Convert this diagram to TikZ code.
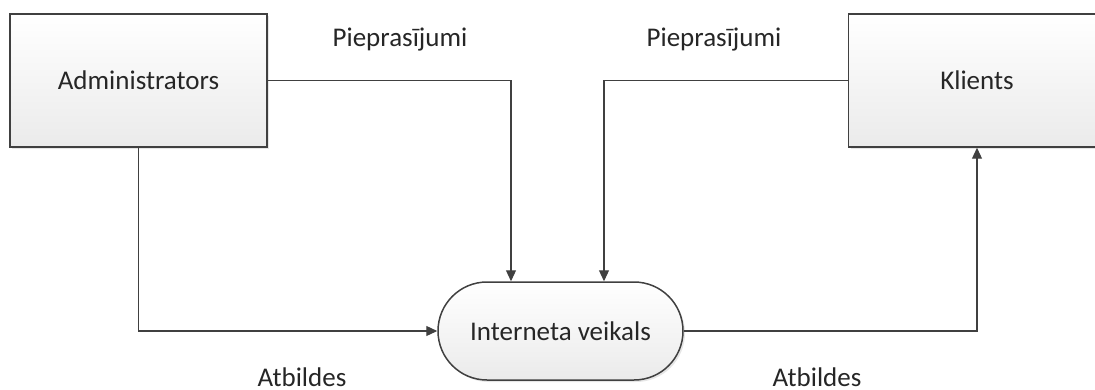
\documentclass[tikz,border=0pt]{standalone}
\usepackage{fontspec}
\setmainfont{Carlito}
\usepackage{tikz}
\usetikzlibrary{arrows.meta,shadows}

\begin{document}
\begin{tikzpicture}[x=1pt,y=-1pt]
                \useasboundingbox (0,0) rectangle (1095,390);
                \begin{scope}[every node/.style={draw=black!75, line width=1.5pt, top color=white, bottom color=black!8,
                                drop shadow={opacity=0.2, shadow xshift=2pt, shadow yshift=-2pt},
                                font=\fontsize{27}{32}\selectfont, text=black!85, inner sep=1}]
                        \node[minimum width=257, minimum height=133] (A1) at (138.5,80.5) {Administrators};
                        \node[minimum width=257, minimum height=133] (K1) at (977,80.5) {Klients};
                        \node[minimum width=245, minimum height=98, rounded corners=49] (S1) at (560.5,331) {Interneta veikals};
                \end{scope}
                \begin{scope}[every node/.style={font=\fontsize{27}{32}\selectfont, text=black!85, anchor=base, inner sep=0}]
                        \node (L1) at (400,47) {Pieprasījumi};
                        \node (L2) at (714,47) {Pieprasījumi};
                        \node (L3) at (302,386) {Atbildes};
                        \node (L4) at (817,386) {Atbildes};
                \end{scope}
                \begin{scope}[every path/.style={draw=black!75, line width=1.2pt, -{Triangle[length=11pt,width=10pt]}}]
                        \path (A1.east) -| ([xshift=-49.5pt]S1.north);
                        \path (K1.west) -| ([xshift=43.5pt]S1.north);
                        \path (A1.south) |- (S1.west);
                        \path (S1.east) -| (K1.south);
                \end{scope}
        \end{tikzpicture}
\end{document}
